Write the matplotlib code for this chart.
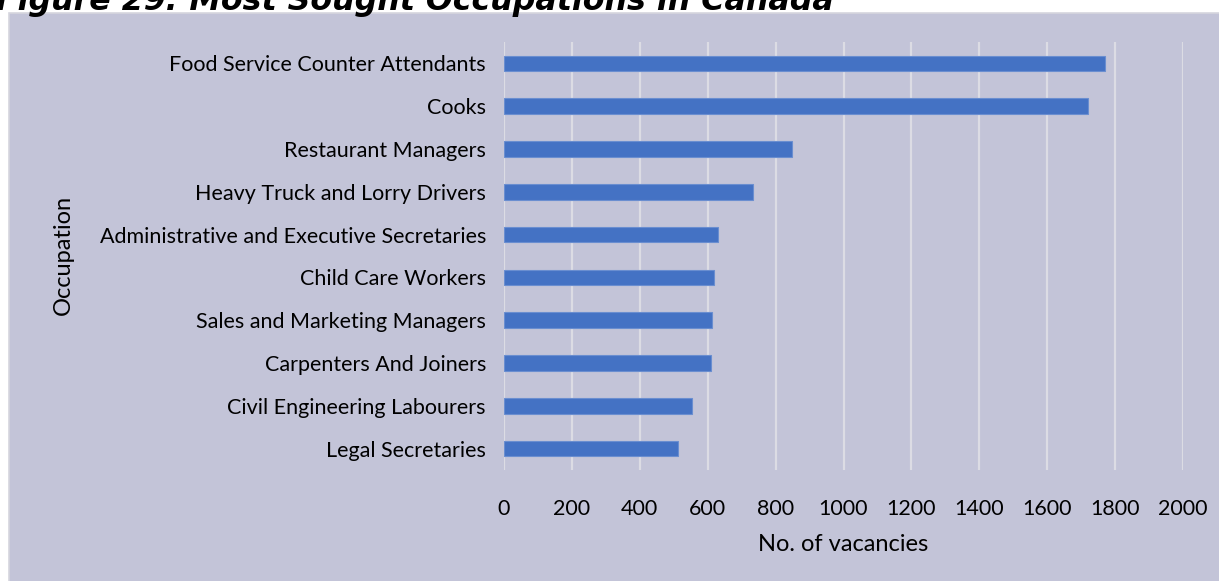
import matplotlib
matplotlib.use("Agg")
import matplotlib.pyplot as plt
from matplotlib.patches import Rectangle

occupations = [
    "Food Service Counter Attendants",
    "Cooks",
    "Restaurant Managers",
    "Heavy Truck and Lorry Drivers",
    "Administrative and Executive Secretaries",
    "Child Care Workers",
    "Sales and Marketing Managers",
    "Carpenters And Joiners",
    "Civil Engineering Labourers",
    "Legal Secretaries",
]
vacancies = [1771, 1721, 847, 734, 629, 619, 613, 609, 553, 512]
x_ticks = [0, 200, 400, 600, 800, 1000, 1200, 1400, 1600, 1800, 2000]

W, H = 1219, 581
fig = plt.figure(figsize=(W / 100, H / 100), dpi=100)
fig.patch.set_facecolor("white")

# lavender chart box, cut off at the right and bottom
bg = Rectangle((9 / W, -0.01), 1.02, 1 - 13 / H + 0.01, transform=fig.transFigure,
               facecolor="#C3C4D8", edgecolor="#D6D6DE", linewidth=1.2, zorder=-5)
fig.patches.append(bg)

fig.text(-0.003, 1 - 10 / H, "Figure 29: Most Sought Occupations in Canada",
         fontsize=22.8, fontweight="bold", fontstyle="italic", family="DejaVu Sans",
         ha="left", va="baseline", color="black")

ax = fig.add_axes([504 / W, 1 - 470 / H, (1183 - 504) / W, (470 - 42) / H])
ax.set_facecolor("none")
ax.barh(range(len(occupations)), vacancies, height=0.36, color="#4472C4",
        edgecolor="#6A8ED0", linewidth=0.8, zorder=3)
ax.set_ylim(len(occupations) - 0.5, -0.5)
ax.set_xlim(0, 2000)
ax.set_xticks(x_ticks)
ax.set_yticks(range(len(occupations)))
ax.set_yticklabels(occupations)
ax.xaxis.grid(True, color="#DCDCE4", linewidth=1.6, zorder=0)
ax.set_axisbelow(True)
for s in ax.spines.values():
    s.set_visible(False)
ax.tick_params(axis="both", length=0, labelsize=15.5, labelcolor="black")
ax.tick_params(axis="y", pad=13)
ax.tick_params(axis="x", pad=21)
for lab in ax.get_xticklabels() + ax.get_yticklabels():
    lab.set_family("Lato")

ax.set_xlabel("No. of vacancies", fontsize=17, family="Lato", labelpad=11)
fig.text(63 / W, 1 - 255 / H, "Occupation", rotation=90, fontsize=17, family="Lato",
         ha="center", va="center")

fig.savefig("out.png", dpi=100)
